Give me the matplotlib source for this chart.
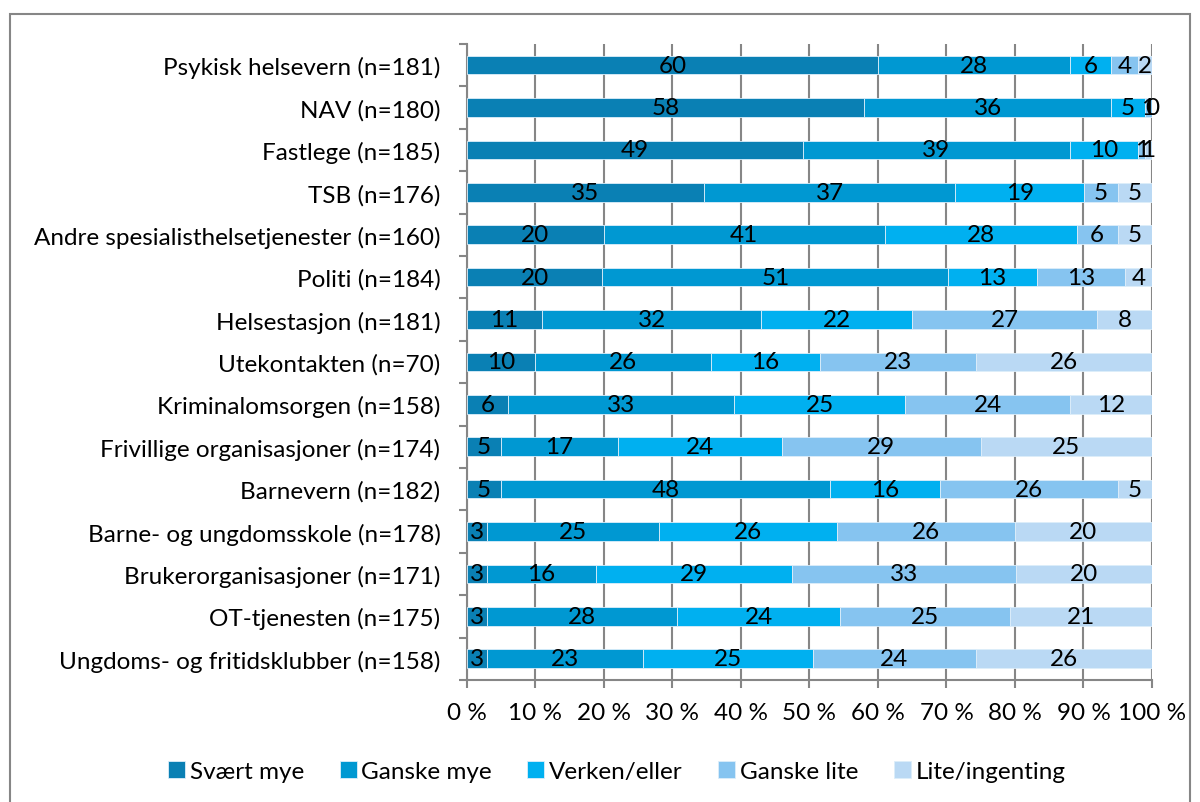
import matplotlib.pyplot as plt
from matplotlib.patches import Rectangle
from matplotlib.ticker import FixedLocator

plt.rcParams['font.family'] = ['Lato', 'DejaVu Sans']

categories = [
    "Psykisk helsevern (n=181)",
    "NAV (n=180)",
    "Fastlege (n=185)",
    "TSB (n=176)",
    "Andre spesialisthelsetjenester (n=160)",
    "Politi (n=184)",
    "Helsestasjon (n=181)",
    "Utekontakten (n=70)",
    "Kriminalomsorgen (n=158)",
    "Frivillige organisasjoner (n=174)",
    "Barnevern (n=182)",
    "Barne- og ungdomsskole (n=178)",
    "Brukerorganisasjoner (n=171)",
    "OT-tjenesten (n=175)",
    "Ungdoms- og fritidsklubber (n=158)",
]

svaert_mye = [60, 58, 49, 35, 20, 20, 11, 10, 6, 5, 5, 3, 3, 3, 3]
ganske_mye = [28, 36, 39, 37, 41, 51, 32, 26, 33, 17, 48, 25, 16, 28, 23]
verken_eller = [6, 5, 10, 19, 28, 13, 22, 16, 25, 24, 16, 26, 29, 24, 25]
ganske_lite = [4, 1, 1, 5, 6, 13, 27, 23, 24, 29, 26, 26, 33, 25, 24]
lite_ingenting = [2, 0, 1, 5, 5, 4, 8, 26, 12, 25, 5, 20, 20, 21, 26]

series = [
    ("Svært mye", svaert_mye, "#0A80B4"),
    ("Ganske mye", ganske_mye, "#0098D2"),
    ("Verken/eller", verken_eller, "#00B0F0"),
    ("Ganske lite", ganske_lite, "#86C4F0"),
    ("Lite/ingenting", lite_ingenting, "#BAD9F4"),
]

fs = 17.5

fig = plt.figure(figsize=(12, 8.03), dpi=100)
ax = fig.add_axes([0.389, 0.152, 0.571, 0.792])

n = len(categories)
ypos = list(range(n - 1, -1, -1))
totals = [sum(s[1][i] for s in series) for i in range(n)]

left = [0.0] * n
for name, vals, color in series:
    widths = [v / t * 100 for v, t in zip(vals, totals)]
    ax.barh(ypos, widths, left=left, height=0.44, color=color,
            edgecolor="#DDEEFA", linewidth=0.6, label=name, zorder=3)
    for y, l, w, v in zip(ypos, left, widths, vals):
        ax.text(l + w / 2, y, str(v), ha="center", va="center",
                fontsize=fs, color="black", zorder=4)
    left = [l + w for l, w in zip(left, widths)]

ax.set_xlim(0, 100)
ax.set_ylim(-0.5, n - 0.5)
ax.set_xticks(range(0, 101, 10))
ax.set_xticklabels([f"{v} %" for v in range(0, 101, 10)], fontsize=fs)
ax.set_yticks(ypos)
ax.set_yticklabels(categories, fontsize=fs)
ax.yaxis.set_minor_locator(FixedLocator([i - 0.5 for i in range(n + 1)]))
ax.tick_params(axis="y", which="major", length=0, pad=19)
ax.tick_params(axis="y", which="minor", length=6, width=1.5, color="#868686")
ax.tick_params(axis="x", length=6, width=1.5, color="#868686", pad=10)

ax.grid(axis="x", color="#868686", linewidth=1.5, zorder=0)
for side in ["top", "right"]:
    ax.spines[side].set_visible(False)
for side in ["left", "bottom"]:
    ax.spines[side].set_color("#868686")
    ax.spines[side].set_linewidth(1.5)

handles, labels = ax.get_legend_handles_labels()
fig.legend(handles=handles, labels=labels,
           loc="center", bbox_to_anchor=(0.514, 0.038), ncol=5, frameon=False,
           fontsize=fs, handlelength=0.7, handleheight=0.7, handletextpad=0.2,
           columnspacing=1.45)

fig.patches.append(Rectangle((10 / 1200, -0.05), 1180 / 1200, 1.05 - 15 / 803,
                             transform=fig.transFigure, fill=False,
                             edgecolor="#868686", linewidth=1.5))

fig.savefig("out.png", dpi=100)
